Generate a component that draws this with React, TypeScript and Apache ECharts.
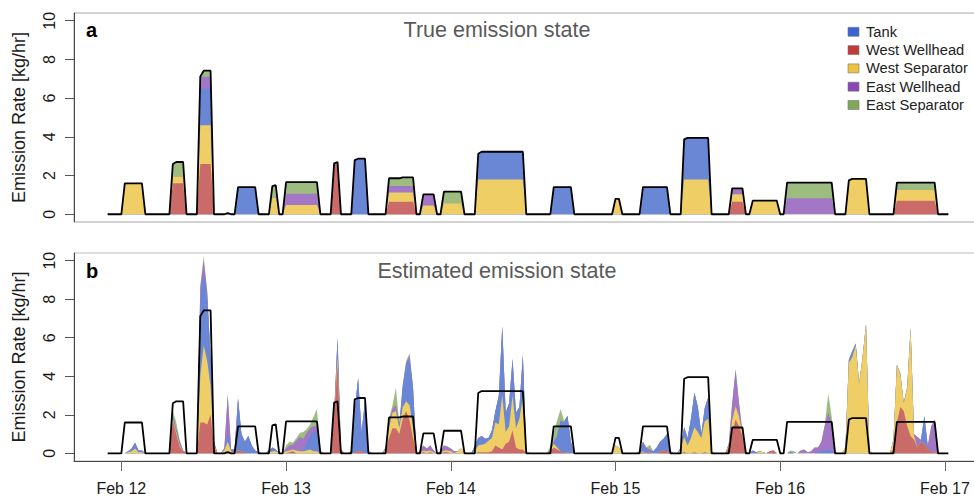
import React, { useEffect, useRef } from 'react';
import * as echarts from 'echarts';

const FONT = '"Liberation Sans", Arial, Helvetica, sans-serif';

// time grid in hours since Feb 12 00:00 (30-minute steps)
const HOURS: number[] = [];
for (let i = 0; i <= 245; i++) HOURS.push(-2 + i * 0.5);

const X_TICK_HOURS = [0, 24, 48, 72, 96, 120];
const X_TICK_LABELS = ['Feb 12', 'Feb 13', 'Feb 14', 'Feb 15', 'Feb 16', 'Feb 17'];
const Y_TICKS = [0, 2, 4, 6, 8, 10];

const LEGEND_ORDER = ['Tank', 'West Wellhead', 'West Separator', 'East Wellhead', 'East Separator'];
// bottom -> top
const STACK_ORDER = ['West Wellhead', 'West Separator', 'Tank', 'East Wellhead', 'East Separator'];
const COLORS: Record<string, string> = {
  'Tank': '#3B63D3',
  'West Wellhead': '#C13B3A',
  'West Separator': '#EDC23F',
  'East Wellhead': '#8B47B6',
  'East Separator': '#7FA85A',
};
const FILLS: Record<string, string> = {
  'Tank': '#6A87D6',
  'West Wellhead': '#CA6B69',
  'West Separator': '#EFCE66',
  'East Wellhead': '#A476C6',
  'East Separator': '#9DBD80',
};

// True emission events: [first hour at plateau, last hour at plateau, tank, westWellhead, westSeparator, eastWellhead, eastSeparator]
const TRUE_EVENTS: number[][] = [
  [0.5, 3.0, 0, 0, 1.6, 0, 0],
  [7.5, 7.5, 0, 1.6, 0.35, 0, 0.65],
  [8.0, 9.0, 0, 1.6, 0.35, 0, 0.75],
  [11.5, 11.5, 1.9, 2.6, 2.0, 0.6, 0.02],
  [12.0, 13.0, 1.9, 2.6, 2.0, 0.6, 0.32],
  [15.5, 15.5, 0.06, 0, 0, 0, 0],
  [17.0, 19.5, 1.4, 0, 0, 0, 0],
  [22.0, 22.0, 0, 0, 0.85, 0, 0.6],
  [22.5, 22.5, 0, 0, 0.85, 0, 0.65],
  [24.0, 28.5, 0, 0, 0.48, 0.58, 0.6],
  [31.0, 31.0, 0, 2.63, 0, 0, 0],
  [31.5, 31.5, 0, 2.7, 0, 0, 0],
  [34.0, 34.0, 2.8, 0, 0, 0, 0],
  [34.5, 35.5, 2.87, 0, 0, 0, 0],
  [39.0, 40.5, 0, 0.65, 0.47, 0.34, 0.4],
  [41.0, 42.5, 0, 0.65, 0.47, 0.34, 0.45],
  [44.0, 45.5, 0, 0, 0.45, 0.58, 0],
  [47.0, 49.5, 0, 0, 0.57, 0, 0.6],
  [52.0, 52.0, 1.33, 0, 1.8, 0, 0],
  [52.5, 58.5, 1.43, 0, 1.8, 0, 0],
  [63.0, 65.5, 1.4, 0, 0, 0, 0],
  [72.0, 72.5, 0, 0, 0.8, 0, 0],
  [76.0, 79.5, 1.4, 0, 0, 0, 0],
  [82.0, 82.0, 2.07, 0, 1.8, 0, 0],
  [82.5, 85.5, 2.15, 0, 1.8, 0, 0],
  [89.0, 90.5, 0, 0.65, 0.38, 0.31, 0],
  [92.0, 95.5, 0, 0, 0.7, 0, 0],
  [97.0, 103.5, 0, 0, 0, 0.83, 0.8],
  [106.0, 106.0, 0, 0, 1.75, 0, 0],
  [106.5, 108.5, 0, 0, 1.83, 0, 0],
  [113.0, 118.5, 0, 0.7, 0.55, 0, 0.38],
];
const TRUE_COLUMN: Record<string, number> = {
  'Tank': 2, 'West Wellhead': 3, 'West Separator': 4, 'East Wellhead': 5, 'East Separator': 6,
};

// Estimated emission state: [hour, kg/hr]; hours not listed are 0
const EST_WEST_WELLHEAD: [number, number][] = [
  [7.5, 1.7], [8.0, 1.0], [8.5, 0.35], [9.0, 0.1],
  [11.5, 1.6], [12.0, 1.6], [12.5, 1.5], [13.0, 2.0], [13.5, 0.3],
  [17.0, 0.15], [17.5, 0.1],
  [24.5, 0.05], [25.0, 0.1],
  [31.0, 2.0], [31.5, 4.6], [32.0, 0.2],
  [34.0, 0.05], [34.5, 0.1], [35.0, 0.1],
  [38.5, 0.1], [39.0, 0.8], [39.5, 1.3], [40.0, 1.3], [40.5, 1.0], [41.0, 1.8], [41.5, 2.2], [42.0, 1.7], [42.5, 0.8],
  [44.0, 0.05], [45.0, 0.05],
  [47.0, 0.05], [47.5, 0.05],
  [52.0, 0.05], [52.5, 0.05], [53.0, 0.05], [53.5, 0.05], [54.0, 0.1], [54.5, 0.4], [55.0, 0.3], [55.5, 0.2],
  [56.0, 0.5], [56.5, 0.6], [57.0, 1.2], [57.5, 0.3], [58.0, 0.2], [58.5, 0.2],
  [62.5, 0.1], [63.0, 0.3], [63.5, 0.2], [64.0, 0.1], [65.0, 0.05],
  [76.0, 0.05], [77.0, 0.05], [78.5, 0.1], [79.0, 0.15], [79.5, 0.1],
  [82.0, 0.05], [83.5, 0.05], [85.0, 0.05],
  [88.5, 0.3], [89.0, 1.1], [89.5, 1.75], [90.0, 1.4], [90.5, 0.9], [91.0, 0.05],
  [94.5, 0.1], [95.0, 0.15],
  [112.5, 0.2], [113.0, 1.6], [113.5, 2.4], [114.0, 2.2], [114.5, 1.4], [115.0, 0.9], [115.5, 0.7], [116.0, 0.3],
  [116.5, 0.6], [117.0, 0.5], [117.5, 0.25], [118.0, 0.1], [118.5, 0.05],
];
const EST_WEST_SEPARATOR: [number, number][] = [
  [1.0, 0.05], [1.5, 0.1], [2.0, 0.25], [2.5, 0.05], [3.0, 0.05],
  [7.5, 0.1], [8.0, 0.1], [8.5, 0.1],
  [11.5, 2.4], [12.0, 4.0], [12.5, 3.3], [13.0, 1.5], [13.5, 0.1],
  [15.0, 0.15], [15.5, 0.6], [16.0, 0.1],
  [21.5, 0.05], [22.0, 0.1], [22.5, 0.1],
  [24.0, 0.1], [24.5, 0.1], [25.0, 0.1], [25.5, 0.15], [26.0, 0.1], [26.5, 0.1], [27.0, 0.15], [27.5, 0.2], [28.0, 0.1], [28.5, 0.1],
  [31.5, 0.4],
  [38.5, 0.1], [39.0, 0.5], [39.5, 0.8], [40.0, 0.9], [40.5, 0.3], [41.0, 0.6], [41.5, 0.5], [42.0, 0.8], [42.5, 0.5],
  [44.0, 0.1], [44.5, 0.1], [45.0, 0.1], [45.5, 0.05],
  [47.0, 0.1], [47.5, 0.1], [48.0, 0.1], [49.0, 0.1], [49.5, 0.25], [50.0, 0.05],
  [51.5, 0.1], [52.0, 0.35], [52.5, 0.4], [53.0, 0.45], [53.5, 0.6], [54.0, 0.7], [54.5, 1.2], [55.0, 1.2], [55.5, 2.8],
  [56.0, 0.6], [56.5, 0.8], [57.0, 1.8], [57.5, 1.0], [58.0, 1.6], [58.5, 2.7], [59.0, 0.1],
  [62.5, 0.05], [63.0, 0.2], [63.5, 0.1],
  [72.0, 0.4], [72.5, 0.3],
  [76.0, 0.05],
  [81.5, 0.2], [82.0, 0.8], [82.5, 0.4], [83.0, 0.8], [83.5, 1.3], [84.0, 1.1], [84.5, 0.8], [85.0, 1.6], [85.5, 1.8], [86.0, 0.1],
  [88.5, 0.1], [89.0, 0.6], [89.5, 0.7], [90.0, 0.5], [90.5, 0.1],
  [93.0, 0.1], [93.5, 0.05],
  [105.5, 0.3], [106.0, 4.7], [106.5, 5.0], [107.0, 5.6], [107.5, 3.6], [108.0, 5.0], [108.5, 6.7], [109.0, 0.1],
  [112.5, 0.5], [113.0, 3.0], [113.5, 1.7], [114.0, 0.4], [114.5, 2.0], [115.0, 5.6], [115.5, 0.2],
];
const EST_TANK: [number, number][] = [
  [1.0, 0.05], [1.5, 0.15], [2.0, 0.3], [2.5, 0.1], [3.0, 0.1],
  [7.5, 0.15], [8.0, 0.15], [8.5, 0.15], [9.0, 0.05],
  [11.5, 4.0], [12.0, 3.8], [12.5, 3.4], [13.0, 1.5], [13.5, 0.2],
  [15.0, 0.1], [15.5, 0.4], [16.0, 0.1],
  [16.5, 0.2], [17.0, 2.7], [17.5, 0.9], [18.0, 0.6], [18.5, 0.9], [19.0, 0.4], [19.5, 0.15], [20.0, 0.05],
  [21.5, 0.1], [22.0, 0.2], [22.5, 0.1],
  [25.5, 0.05], [26.0, 0.05], [26.5, 0.05], [27.0, 0.4], [27.5, 0.7], [28.0, 1.0], [28.5, 1.1], [29.0, 0.1],
  [31.5, 1.0],
  [33.5, 0.1], [34.0, 2.2], [34.5, 3.8], [35.0, 1.0], [35.5, 2.7], [36.0, 0.1],
  [40.5, 0.1], [41.0, 1.0], [41.5, 1.9], [42.0, 2.4], [42.5, 2.1],
  [51.5, 0.3], [52.0, 0.4], [52.5, 0.45], [53.0, 0.25], [53.5, 0.15], [54.0, 0.4], [54.5, 0.6], [55.0, 1.5], [55.5, 3.6],
  [56.0, 1.0], [56.5, 1.2], [57.0, 1.9], [57.5, 0.8], [58.0, 0.6], [58.5, 2.2],
  [63.0, 0.1], [63.5, 0.6], [64.0, 1.6], [64.5, 1.6], [65.0, 1.9], [65.5, 0.6],
  [75.5, 0.1], [76.0, 0.5], [76.5, 0.2], [77.0, 0.1], [77.5, 0.1], [78.0, 0.3], [78.5, 0.5], [79.0, 0.6], [79.5, 0.9], [80.0, 0.1],
  [81.5, 0.1], [82.0, 0.5], [82.5, 0.4], [83.0, 1.0], [83.5, 1.8], [84.0, 1.3], [84.5, 0.2], [85.0, 0.7], [85.5, 1.1],
  [92.0, 0.15], [92.5, 0.05],
  [97.5, 0.05], [101.5, 0.05], [102.0, 0.1], [102.5, 0.15], [103.0, 0.2], [103.5, 0.1],
  [106.0, 0.15], [106.5, 0.3], [107.0, 0.1],
  [116.0, 0.05], [117.0, 1.4], [118.0, 0.1],
];
const EST_EAST_WELLHEAD: [number, number][] = [
  [11.5, 0.6], [12.0, 0.6], [12.5, 0.2],
  [15.5, 2.0],
  [24.0, 0.15], [24.5, 0.25], [25.0, 0.25], [25.5, 0.45], [26.0, 0.7], [26.5, 0.6], [27.0, 0.5], [27.5, 0.4], [28.0, 0.3], [28.5, 0.2],
  [38.5, 0.1], [39.0, 0.3], [39.5, 0.2], [40.0, 0.3], [40.5, 0.1], [41.0, 0.1], [41.5, 0.1], [42.0, 0.15],
  [43.5, 0.1], [44.0, 0.25], [44.5, 0.15], [45.0, 0.25], [45.5, 0.1],
  [46.5, 0.1], [47.0, 0.25], [47.5, 0.2], [48.0, 0.15], [48.5, 0.1],
  [76.5, 0.1], [77.0, 0.05],
  [88.5, 0.1], [89.0, 0.9], [89.5, 1.9], [90.0, 0.7], [90.5, 0.1],
  [99.0, 0.15], [99.5, 0.2], [100.0, 0.05], [100.5, 0.1], [101.0, 0.3], [101.5, 0.25], [102.0, 0.5], [102.5, 1.3],
  [103.0, 1.9], [103.5, 1.5], [104.0, 0.05],
  [115.5, 0.1], [116.0, 0.5], [116.5, 0.1], [117.0, 0.05], [117.5, 0.15], [118.0, 1.2], [118.5, 1.7],
];
const EST_EAST_SEPARATOR: [number, number][] = [
  [7.5, 0.3], [8.0, 0.35], [8.5, 0.1],
  [11.5, 0.1], [12.0, 0.25], [12.5, 0.05],
  [15.5, 0.1],
  [24.0, 0.15], [24.5, 0.2], [25.0, 0.1], [25.5, 0.15], [26.0, 0.2], [26.5, 0.35], [27.0, 0.2], [27.5, 0.2], [28.0, 0.5], [28.5, 0.9],
  [39.0, 0.2], [39.5, 0.2], [40.0, 0.9], [40.5, 0.1], [41.0, 0.1], [41.5, 0.1], [42.0, 0.15],
  [62.5, 0.2], [63.0, 0.5], [63.5, 0.8], [64.0, 0.6], [64.5, 0.1],
  [77.0, 0.25],
  [97.5, 0.1], [98.0, 0.1], [102.5, 0.05], [103.0, 1.0], [103.5, 0.3],
  [113.5, 0.1], [114.0, 0.05], [114.5, 0.05],
];
const ESTIMATES: Record<string, [number, number][]> = {
  'Tank': EST_TANK,
  'West Wellhead': EST_WEST_WELLHEAD,
  'West Separator': EST_WEST_SEPARATOR,
  'East Wellhead': EST_EAST_WELLHEAD,
  'East Separator': EST_EAST_SEPARATOR,
};

function trueLayer(name: string): number[] {
  const c = TRUE_COLUMN[name];
  return HOURS.map((h) => TRUE_EVENTS.reduce((s, e) => (e[0] <= h && h <= e[1] ? s + e[c] : s), 0));
}
function estLayer(name: string): number[] {
  const m = new Map<number, number>(ESTIMATES[name].map(([h, v]) => [h, v] as [number, number]));
  return HOURS.map((h) => m.get(h) ?? 0);
}
// cumulative tops of each layer (bottom -> top order)
function cumulative(layer: (n: string) => number[]): Record<string, number[][]> {
  const out: Record<string, number[][]> = {};
  let acc = HOURS.map(() => 0);
  STACK_ORDER.forEach((n) => {
    const vals = layer(n);
    acc = acc.map((a, i) => a + vals[i]);
    out[n] = HOURS.map((h, i) => [h, +acc[i].toFixed(4)]);
  });
  return out;
}

const X_MIN = -6.9;
const X_MAX = 125.4;
const PLOT_LEFT = 74;
const PLOT_WIDTH = 908;

function makeXAxis(gridIndex: number, showLabels: boolean) {
  return {
    type: 'value',
    gridIndex,
    min: X_MIN,
    max: X_MAX,
    splitLine: { show: false },
    axisLine: { show: true, onZero: false, lineStyle: { color: showLabels ? '#444' : '#cfcfcf', width: 1 } },
    axisTick: {
      show: showLabels,
      customValues: X_TICK_HOURS,
      length: 10,
      lineStyle: { color: '#666' },
    },
    axisLabel: {
      show: showLabels,
      customValues: X_TICK_HOURS,
      formatter: (v: number) => {
        const i = X_TICK_HOURS.indexOf(v);
        return i >= 0 ? X_TICK_LABELS[i] : '';
      },
      margin: 19,
      fontSize: 16,
      fontFamily: FONT,
      color: '#1a1a1a',
    },
  };
}
function makeYAxis(gridIndex: number) {
  return {
    type: 'value',
    gridIndex,
    min: -0.4,
    max: 10.4,
    name: 'Emission Rate [kg/hr]',
    nameLocation: 'middle',
    nameGap: 46,
    nameRotate: 90,
    nameTextStyle: { fontSize: 18, fontFamily: FONT, color: '#1a1a1a' },
    splitLine: { show: false },
    axisLine: { show: true, onZero: false, lineStyle: { color: '#444', width: 1 } },
    axisTick: { show: true, customValues: Y_TICKS, length: 9, lineStyle: { color: '#555' } },
    axisLabel: {
      customValues: Y_TICKS,
      rotate: 90,
      margin: 17,
      fontSize: 16,
      fontFamily: FONT,
      color: '#1a1a1a',
    },
  };
}

function panelSeries(axis: number, cum: Record<string, number[][]>, total: number[][]): any[] {
  const s: any[] = [];
  // draw the highest cumulative first so each lower layer paints over it
  [...STACK_ORDER].reverse().forEach((name) => {
    s.push({
      name,
      type: 'line',
      xAxisIndex: axis,
      yAxisIndex: axis,
      data: cum[name],
      symbol: 'none',
      lineStyle: { width: 0, color: FILLS[name] },
      itemStyle: { color: COLORS[name] },
      areaStyle: { color: FILLS[name], opacity: 1, origin: 0 },
      z: 2,
      silent: true,
    });
  });
  s.push({
    name: 'True state ' + axis,
    type: 'line',
    xAxisIndex: axis,
    yAxisIndex: axis,
    data: total,
    symbol: 'none',
    lineStyle: { color: '#000', width: 1.8 },
    itemStyle: { color: '#000' },
    z: 5,
    silent: true,
  });
  return s;
}

export default function App() {
  const ref = useRef<HTMLDivElement>(null);
  useEffect(() => {
    if (!ref.current) return;
    const chart = echarts.init(ref.current, undefined, { renderer: 'svg' });
    const trueCum = cumulative(trueLayer);
    const estCum = cumulative(estLayer);
    const total = trueCum[STACK_ORDER[STACK_ORDER.length - 1]];
    const series = [...panelSeries(0, trueCum, total), ...panelSeries(1, estCum, total)];

    chart.setOption({
      animation: false,
      backgroundColor: '#ffffff',
      grid: [
        { left: PLOT_LEFT, top: 13, width: PLOT_WIDTH, height: 209, show: true, borderColor: '#a8a8a8', borderWidth: 1, backgroundColor: 'transparent' },
        { left: PLOT_LEFT, top: 253, width: PLOT_WIDTH, height: 209.7, show: true, borderColor: '#bdbdbd', borderWidth: 1, backgroundColor: 'transparent' },
      ],
      xAxis: [makeXAxis(0, false), makeXAxis(1, true)],
      yAxis: [makeYAxis(0), makeYAxis(1)],
      legend: {
        data: LEGEND_ORDER.map((n) => ({
          name: n,
          icon: 'rect',
          itemStyle: { color: COLORS[n], opacity: 1, borderColor: '#777', borderWidth: 0.6 },
        })),
        orient: 'vertical',
        left: 842.7,
        top: 18.8,
        itemWidth: 11,
        itemHeight: 9,
        itemGap: 2.3,
        selectedMode: false,
        textStyle: { fontFamily: FONT, fontSize: 14.7, color: '#222', lineHeight: 16, padding: [0, 0, 0, 2] },
      },
      graphic: [
        { type: 'text', x: 497, y: 29.9, z: 10, style: { text: 'True emission state', fontSize: 21.5, fontFamily: FONT, fill: '#5a5a5a', align: 'center', verticalAlign: 'middle' } },
        { type: 'text', x: 497, y: 270.8, z: 10, style: { text: 'Estimated emission state', fontSize: 21.5, fontFamily: FONT, fill: '#5a5a5a', align: 'center', verticalAlign: 'middle' } },
        { type: 'text', x: 86, y: 30.4, z: 10, style: { text: 'a', fontSize: 20, fontWeight: 'bold', fontFamily: FONT, fill: '#000', align: 'left', verticalAlign: 'middle' } },
        { type: 'text', x: 86, y: 270.8, z: 10, style: { text: 'b', fontSize: 20, fontWeight: 'bold', fontFamily: FONT, fill: '#000', align: 'left', verticalAlign: 'middle' } },
      ],
      series,
    });
    return () => chart.dispose();
  }, []);
  return (
    <div style={{ position: 'absolute', left: 0, top: 0, width: 974, height: 496, overflow: 'hidden', background: '#fff' }}>
      <div ref={ref} style={{ width: 990, height: 496 }} />
    </div>
  );
}
